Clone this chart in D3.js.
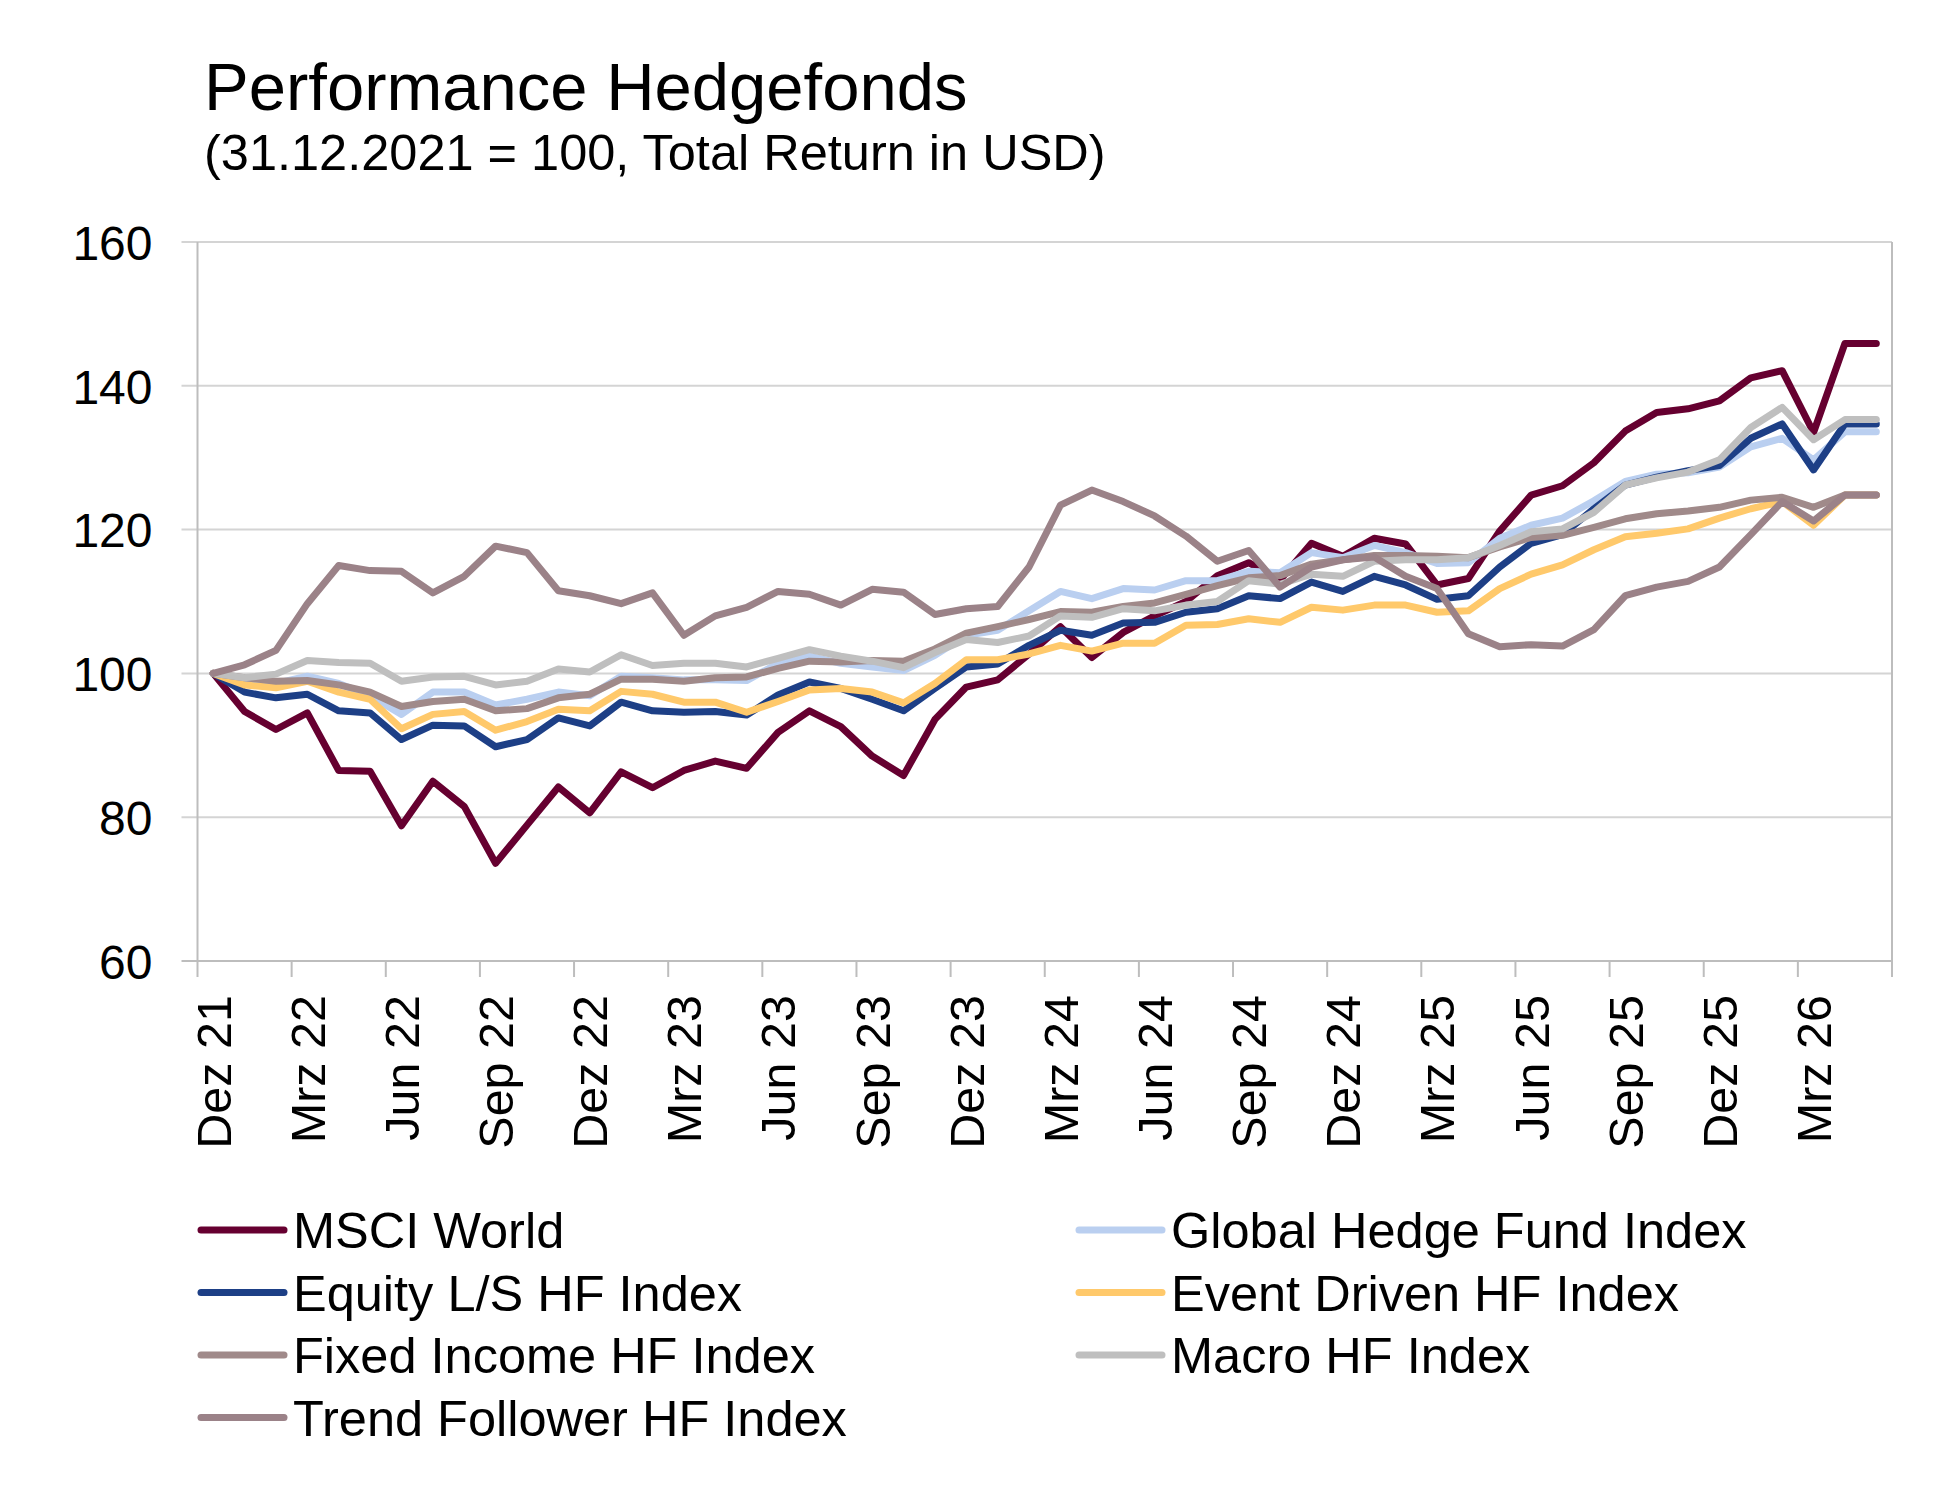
<!DOCTYPE html>
<html>
<head>
<meta charset="utf-8">
<script src="https://cdn.jsdelivr.net/npm/d3@7"></script>
<style>
  body { margin: 0; background: #fff; }
  text { font-family: "Liberation Sans", Arial, sans-serif; fill: #000; }
</style>
</head>
<body>
<div class="c_chart"></div>
<script>
/* DIMENSIONS */
const width = 1960;
const height = 1501;
const plot = {left: 197.5, right: 1892, top: 242, bottom: 961};

/* DATA (index, 31.12.2021 = 100) */
const months = ["Dez 21","Jan 22","Feb 22","Mrz 22","Apr 22","Mai 22","Jun 22","Jul 22","Aug 22","Sep 22","Okt 22","Nov 22",
  "Dez 22","Jan 23","Feb 23","Mrz 23","Apr 23","Mai 23","Jun 23","Jul 23","Aug 23","Sep 23","Okt 23","Nov 23",
  "Dez 23","Jan 24","Feb 24","Mrz 24","Apr 24","Mai 24","Jun 24","Jul 24","Aug 24","Sep 24","Okt 24","Nov 24",
  "Dez 24","Jan 25","Feb 25","Mrz 25","Apr 25","Mai 25","Jun 25","Jul 25","Aug 25","Sep 25","Okt 25","Nov 25",
  "Dez 25","Jan 26","Feb 26","Mrz 26","Apr 26","Mai 26"];

const yTicks = [60, 80, 100, 120, 140, 160];

const msciWorld = [100,94.7,92.2,94.5,86.5,86.4,78.8,85.0,81.5,73.6,78.9,84.2,
  80.6,86.3,84.1,86.5,87.8,86.8,91.8,94.8,92.6,88.5,85.8,93.6,
  98.1,99.1,102.7,106.5,102.2,105.7,108.0,110.0,113.6,115.4,113.0,118.1,
  116.3,118.8,118.0,112.3,113.2,119.8,124.8,126.1,129.3,133.7,136.3,136.8,
  137.9,141.1,142.1,133.5,145.9,145.9];

const globalHF = [100,99.1,98.6,99.6,98.6,96.9,94.3,97.4,97.4,95.6,96.4,97.4,
  96.9,99.6,99.4,99.1,99.1,99.0,101.4,102.4,101.4,100.9,100.4,102.5,
  105.3,106.0,108.7,111.4,110.4,111.8,111.6,112.9,112.9,114.2,114.0,116.8,
  116.1,117.8,116.8,115.3,115.4,118.8,120.6,121.6,124.0,126.7,127.7,127.9,
  128.7,131.5,132.7,129.7,133.6,133.6];

const equityLS = [100,97.4,96.6,97.1,94.8,94.5,90.8,92.8,92.7,89.8,90.8,93.8,
  92.7,96.0,94.8,94.6,94.7,94.2,97.0,98.8,97.9,96.4,94.8,97.9,
  100.9,101.3,103.9,106.0,105.3,107.0,107.1,108.5,109.0,110.8,110.4,112.7,
  111.4,113.5,112.3,110.3,110.8,114.8,118.1,119.3,122.9,126.2,127.3,128.2,
  128.9,132.7,134.7,128.3,134.7,134.7];

const eventDriven = [100,98.4,98.0,98.9,97.4,96.4,92.3,94.3,94.7,92.1,93.3,95.0,
  94.8,97.5,97.1,96.0,96.0,94.6,96.1,97.7,97.9,97.4,95.9,98.6,
  101.9,101.9,102.7,103.9,103.1,104.2,104.2,106.7,106.8,107.6,107.1,109.2,
  108.8,109.5,109.5,108.5,108.7,111.8,113.8,115.1,117.2,119.0,119.5,120.1,
  121.6,122.9,123.9,120.6,124.8,124.8];

const fixedIncome = [100,99.4,98.9,99.0,98.4,97.4,95.4,96.1,96.4,94.8,95.1,96.6,
  97.1,99.2,99.2,98.9,99.4,99.5,100.7,101.7,101.6,101.8,101.7,103.4,
  105.6,106.5,107.5,108.6,108.5,109.3,109.8,111.0,112.2,113.3,113.6,115.2,
  115.8,116.4,116.4,116.3,116.1,117.6,118.9,119.2,120.3,121.5,122.2,122.6,
  123.1,124.1,124.5,123.1,124.8,124.8];

const macroHF = [100,99.4,99.9,101.8,101.5,101.4,98.9,99.5,99.6,98.4,98.9,100.6,
  100.2,102.6,101.1,101.4,101.4,100.9,102.1,103.3,102.4,101.7,100.8,102.9,
  104.7,104.3,105.2,108.0,107.8,109.0,108.7,109.5,110.0,112.9,112.4,113.8,
  113.5,115.6,115.8,115.8,116.1,117.8,119.7,120.1,122.4,126.2,127.2,128.0,
  129.7,134.2,137.0,132.5,135.3,135.3];

const trendFollower = [100,101.2,103.2,109.7,115.0,114.3,114.2,111.2,113.5,117.7,116.8,111.5,
  110.8,109.7,111.2,105.3,108.0,109.2,111.4,111.0,109.5,111.7,111.3,108.2,
  109.0,109.3,114.8,123.4,125.5,123.9,121.9,119.1,115.6,117.1,112.0,114.8,
  115.8,116.2,113.5,111.8,105.5,103.7,104.0,103.8,106.1,110.8,112.0,112.8,
  114.8,119.3,123.9,121.2,124.8,124.8];

const seriesNames = ["MSCI World","Global Hedge Fund Index","Equity L/S HF Index","Event Driven HF Index",
  "Fixed Income HF Index","Macro HF Index","Trend Follower HF Index"];
const seriesValues = [msciWorld, globalHF, equityLS, eventDriven, fixedIncome, macroHF, trendFollower];
const seriesColors = ["#660030","#BACFF0","#1D3F86","#FFC96B","#A08A8A","#BFBFBF","#9B8288"];

/* SVG */
const svg = d3.select(".c_chart").append("svg")
  .attr("width", width)
  .attr("height", height);

svg.append("rect").attr("width", width).attr("height", height).attr("fill", "#fff");

/* TITLE */
svg.append("text")
  .attr("x", 204).attr("y", 110)
  .style("font-size", "67px")
  .text("Performance Hedgefonds");

svg.append("text")
  .attr("x", 204).attr("y", 170)
  .style("font-size", "50.5px")
  .text("(31.12.2021 = 100, Total Return in USD)");

/* SCALES */
const x = d3.scaleBand()
  .domain(months)
  .range([plot.left, plot.right]);

const y = d3.scaleLinear()
  .domain([60, 160])
  .range([plot.bottom, plot.top]);

const cx = d => x(d) + x.bandwidth() / 2;

/* GRID */
svg.append("g")
  .selectAll("line")
  .data(yTicks)
  .join("line")
  .attr("x1", plot.left - 16).attr("x2", plot.right)
  .attr("y1", d => y(d)).attr("y2", d => y(d))
  .attr("stroke", d => d === 60 ? "#BDBDBD" : "#D4D4D4")
  .attr("stroke-width", 2);

/* AXES */
const yAxis = svg.append("g")
  .attr("transform", `translate(${plot.left},0)`)
  .call(d3.axisLeft(y).tickValues(yTicks).tickSize(0).tickPadding(45));
yAxis.select(".domain").remove();
yAxis.selectAll("text")
  .style("font-size", "48px")
  .style("font-family", "'Liberation Sans', Arial, sans-serif")
  .attr("dy", "0.36em");

svg.append("line")
  .attr("x1", plot.left).attr("x2", plot.left)
  .attr("y1", plot.top).attr("y2", plot.bottom)
  .attr("stroke", "#BDBDBD").attr("stroke-width", 2);

svg.append("line")
  .attr("x1", plot.right).attr("x2", plot.right)
  .attr("y1", plot.top).attr("y2", plot.bottom + 16)
  .attr("stroke", "#BDBDBD").attr("stroke-width", 2);

const tickMonths = months.filter((m, i) => i % 3 === 0);

svg.append("g")
  .selectAll("line")
  .data(tickMonths)
  .join("line")
  .attr("x1", d => x(d)).attr("x2", d => x(d))
  .attr("y1", plot.bottom).attr("y2", plot.bottom + 16)
  .attr("stroke", "#BDBDBD").attr("stroke-width", 2);

svg.append("g")
  .selectAll("text")
  .data(tickMonths)
  .join("text")
  .attr("transform", d => `translate(${cx(d)},995) rotate(-90)`)
  .attr("text-anchor", "end")
  .attr("dy", "0.36em")
  .style("font-size", "48.5px")
  .text(d => d);

/* LINES */
const line = d3.line()
  .x((d, i) => cx(months[i]))
  .y(d => y(d));

svg.append("g")
  .selectAll("path")
  .data(seriesValues)
  .join("path")
  .attr("d", line)
  .attr("fill", "none")
  .attr("stroke", (d, i) => seriesColors[i])
  .attr("stroke-width", 7)
  .attr("stroke-linejoin", "round")
  .attr("stroke-linecap", "round");

/* LEGEND */
const legendOrder = [0, 2, 4, 6, 1, 3, 5];
const legend = svg.append("g")
  .selectAll("g")
  .data(legendOrder)
  .join("g")
  .attr("transform", (d, i) => {
    const col = i < 4 ? 0 : 1;
    const row = i < 4 ? i : i - 4;
    return `translate(${col === 0 ? 198 : 1076},${1230 + row * 62.5})`;
  });

legend.append("line")
  .attr("x1", 3).attr("x2", 86)
  .attr("stroke", d => seriesColors[d])
  .attr("stroke-width", 7)
  .attr("stroke-linecap", "round");

legend.append("text")
  .attr("x", 95)
  .attr("dy", "0.36em")
  .style("font-size", "50.5px")
  .text(d => seriesNames[d]);
</script>
</body>
</html>
